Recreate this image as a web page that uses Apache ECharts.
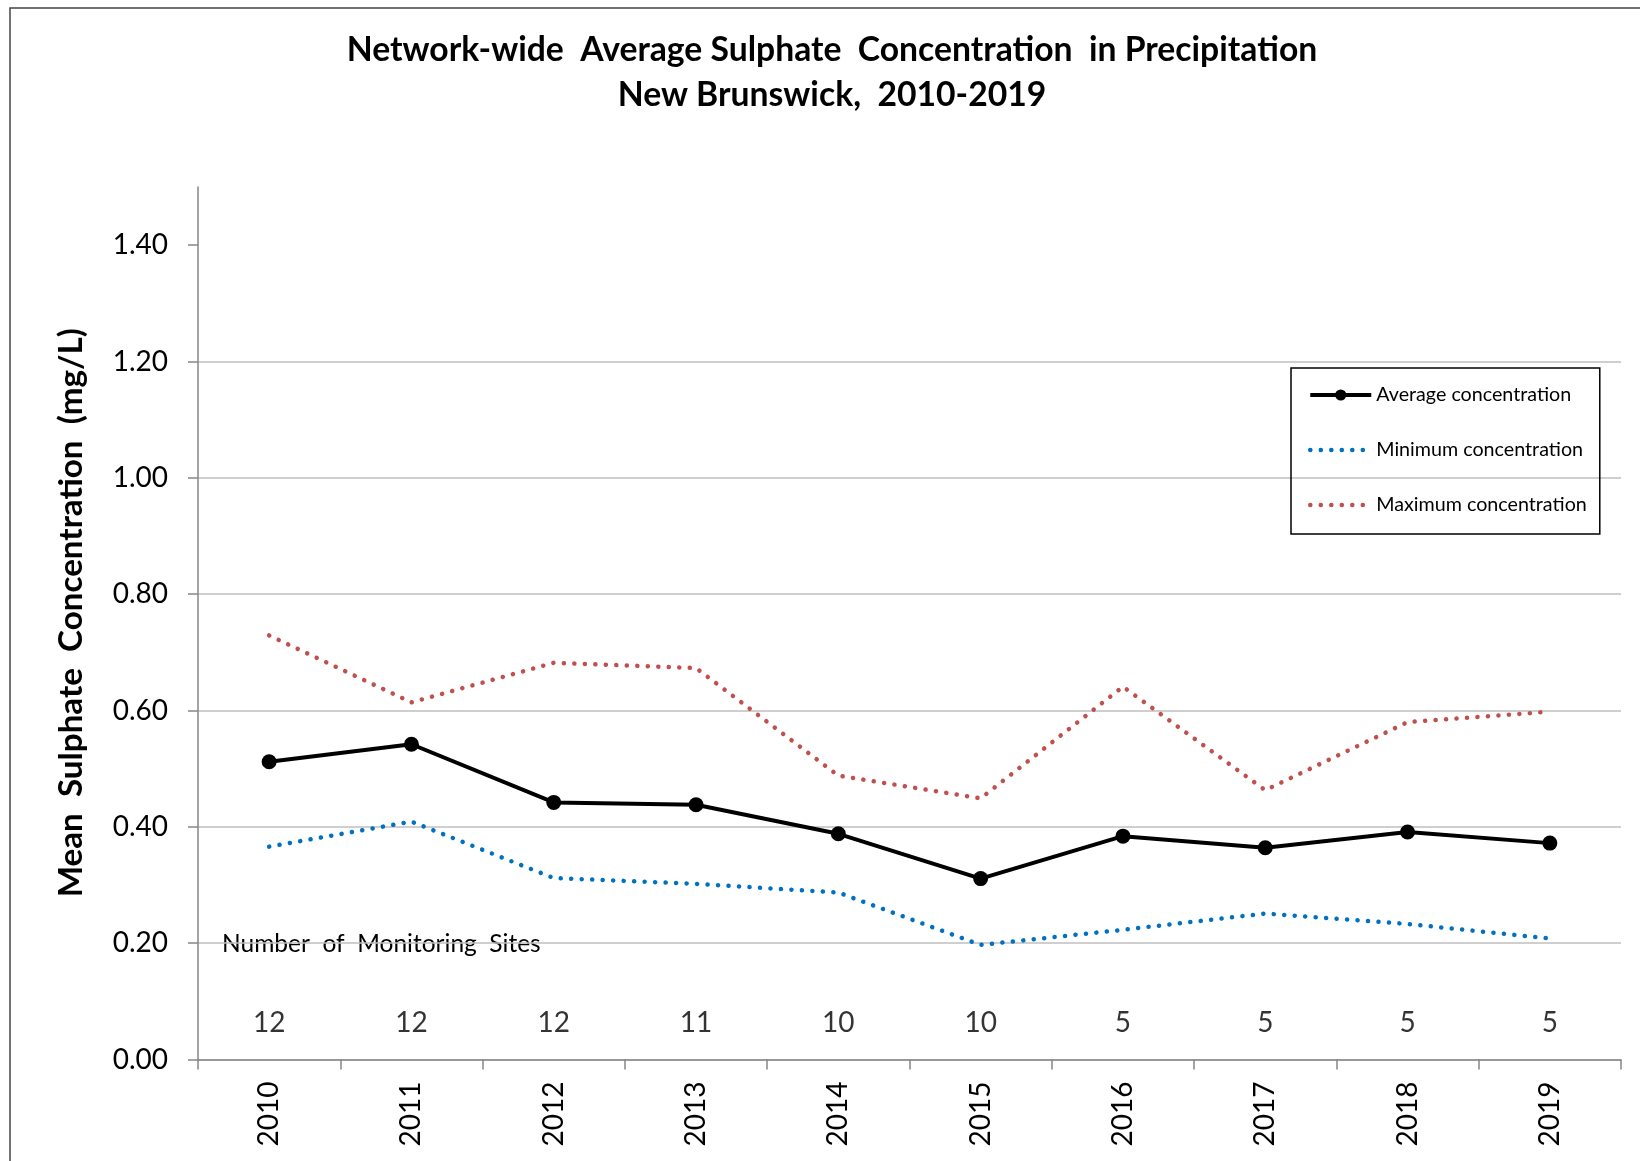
<!DOCTYPE html>
<html>
<head>
<meta charset="utf-8">
<script src="https://cdn.jsdelivr.net/npm/echarts@6/dist/echarts.min.js"></script>
<style>
html,body{margin:0;padding:0;background:#fff;}
#chart{width:1640px;height:1161px;}
</style>
</head>
<body>
<div id="chart"></div>
<script>
// ---- data ----
const years = ['2010','2011','2012','2013','2014','2015','2016','2017','2018','2019'];
const avgConc = [0.512, 0.542, 0.442, 0.438, 0.388, 0.311, 0.384, 0.364, 0.391, 0.372];
const minConc = [0.366, 0.409, 0.312, 0.302, 0.287, 0.197, 0.223, 0.251, 0.233, 0.208];
const maxConc = [0.729, 0.614, 0.682, 0.673, 0.488, 0.449, 0.641, 0.463, 0.580, 0.598];
const siteCounts = [12, 12, 12, 11, 10, 10, 5, 5, 5, 5];
const yTicks = [0, 0.2, 0.4, 0.6, 0.8, 1.0, 1.2, 1.4];
const countRowValue = 0.063;

const FONT = 'Lato';
const dotted = [0.1, 10.4];
const chart = echarts.init(document.getElementById('chart'));
chart.setOption({
  animation: false,
  backgroundColor: '#ffffff',
  textStyle: { fontFamily: FONT },
  title: {
    text: 'Network-wide  Average Sulphate  Concentration  in Precipitation\nNew Brunswick,  2010-2019',
    left: 832, top: 28, textAlign: 'center', padding: 0,
    textStyle: { fontFamily: FONT, fontSize: 33.7, fontWeight: 'bold', color: '#000', lineHeight: 45 }
  },
  grid: { left: 198, right: 19, top: 187, bottom: 101.5, containLabel: false },
  legend: {
    orient: 'vertical', left: 1291, top: 368,
    padding: [15, 13, 17, 17],
    itemGap: 31, itemWidth: 61, itemHeight: 14,
    borderColor: '#000', borderWidth: 1.5,
    textStyle: { fontFamily: FONT, fontSize: 19.7, lineHeight: 24, color: '#000' },
    data: [
      { name: 'Average concentration', lineStyle: { width: 4, color: '#000' } },
      { name: 'Minimum concentration', lineStyle: { width: 4.5, color: '#0070c0', type: dotted, cap: 'round' } },
      { name: 'Maximum concentration', lineStyle: { width: 4.5, color: '#c0504d', type: dotted, cap: 'round' } }
    ]
  },
  xAxis: {
    type: 'category', data: years, boundaryGap: true,
    axisLine: { lineStyle: { color: '#868686', width: 1.5 } },
    axisTick: { show: true, length: 10, lineStyle: { color: '#868686', width: 1.5 } },
    axisLabel: { rotate: 90, fontSize: 28, color: '#000', margin: 22, fontFamily: FONT }
  },
  yAxis: {
    type: 'value', min: 0, max: 1.5, interval: 0.2,
    name: 'Mean  Sulphate  Concentration  (mg/L)',
    nameLocation: 'middle', nameGap: 110,
    nameTextStyle: { fontFamily: FONT, fontSize: 33.2, fontWeight: 'bold', color: '#000', padding: [0, 0, 0, 21] },
    axisLine: { show: true, lineStyle: { color: '#868686', width: 1.5 } },
    axisTick: { show: true, length: 10, customValues: yTicks, lineStyle: { color: '#868686', width: 1.5 } },
    axisLabel: { customValues: yTicks, fontSize: 28, color: '#000', margin: 30, fontFamily: FONT,
      formatter: v => v.toFixed(2) },
    splitLine: { show: true, showMaxLine: false, lineStyle: { color: '#bfbfbf', width: 1.5 } }
  },
  graphic: [
    { type: 'rect', shape: { x: 10, y: 8, width: 1700, height: 1300 },
      style: { fill: 'none', stroke: '#444', lineWidth: 1.5 }, silent: true, z: 100 },
    { type: 'text', left: 222, top: 932,
      style: { text: 'Number  of  Monitoring  Sites', font: '24.5px ' + FONT, fill: '#000' } }
  ],
  series: [
    {
      name: 'Maximum concentration', type: 'line', data: maxConc,
      showSymbol: false, symbol: 'none',
      lineStyle: { color: '#c0504d', width: 4.5, type: dotted, cap: 'round' },
      itemStyle: { color: '#c0504d', opacity: 0 }, z: 2
    },
    {
      name: 'Minimum concentration', type: 'line', data: minConc,
      showSymbol: false, symbol: 'none',
      lineStyle: { color: '#0070c0', width: 4.5, type: dotted, cap: 'round' },
      itemStyle: { color: '#0070c0', opacity: 0 }, z: 2
    },
    {
      name: 'Average concentration', type: 'line', data: avgConc,
      symbol: 'circle', symbolSize: 15,
      lineStyle: { color: '#000', width: 4 },
      itemStyle: { color: '#000' }, z: 3
    },
    {
      name: 'counts', type: 'scatter', symbolSize: 0,
      data: siteCounts.map(c => countRowValue),
      label: { show: true, position: 'inside', fontSize: 28, color: '#000', fontFamily: FONT,
        formatter: p => String(siteCounts[p.dataIndex]) },
      silent: true, z: 4
    }
  ]
});
</script>
</body>
</html>
